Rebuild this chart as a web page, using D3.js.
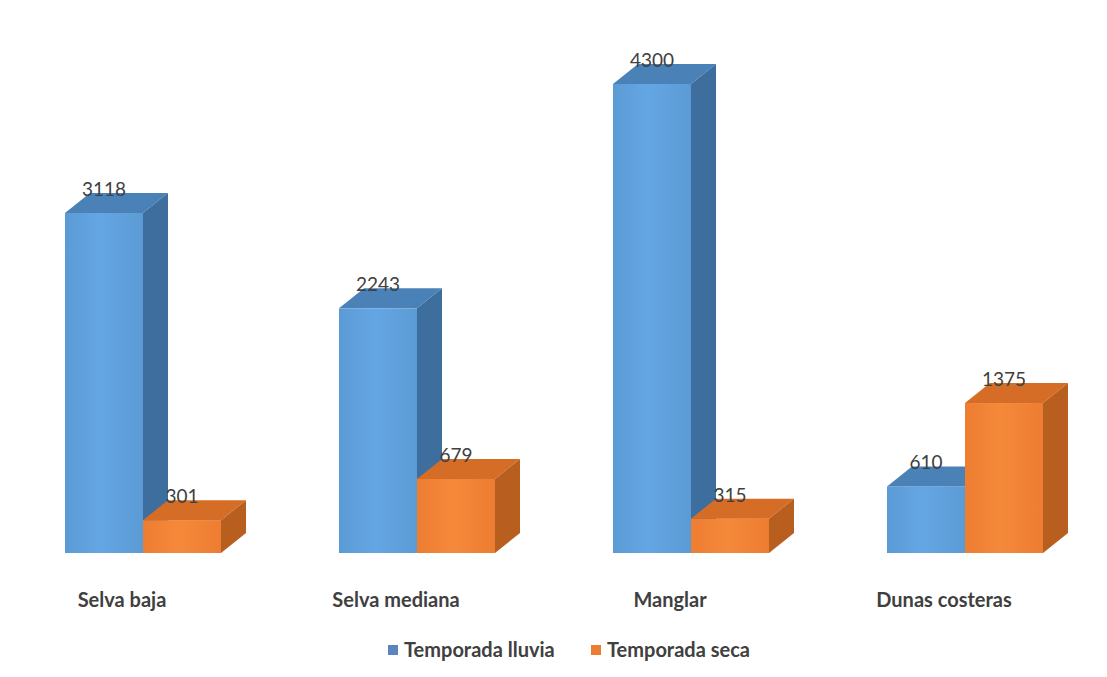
<!DOCTYPE html>
<html>
<head>
<meta charset="utf-8">
<script src="https://cdn.jsdelivr.net/npm/d3@7"></script>
<style>
  body { margin: 0; background: #fff; }
  svg { display: block; }
</style>
</head>
<body>
<script>
// chart data
var categories = ["Selva baja", "Selva mediana", "Manglar", "Dunas costeras"];
var seriesNames = ["Temporada lluvia", "Temporada seca"];
var lluvia = [3118, 2243, 4300, 610];
var seca = [301, 679, 315, 1375];

var W = 1107, H = 677;
var depthX = 25, depthY = -20;

var svg = d3.select("body").append("svg")
    .attr("width", W)
    .attr("height", H);

// colours per series: front, side, top
var colors = {
    "Temporada lluvia": {front: "#5b9bd5", light: "#64a6e4", side: "#3d6e9e", top: "#4a82b8", legend: "#5b86bd"},
    "Temporada seca":   {front: "#ed7d31", light: "#f5893a", side: "#b85e1f", top: "#d66d27", legend: "#ed7d31"}
};

// gradients for the front faces
var defs = svg.append("defs");
seriesNames.forEach(function(s, i) {
    var g = defs.append("linearGradient")
        .attr("id", "grad" + i)
        .attr("x1", "0%").attr("x2", "100%").attr("y1", "0%").attr("y2", "0%");
    g.append("stop").attr("offset", "0%").attr("stop-color", colors[s].front);
    g.append("stop").attr("offset", "45%").attr("stop-color", colors[s].light);
    g.append("stop").attr("offset", "100%").attr("stop-color", colors[s].front);
});

var data = categories.map(function(c, i) {
    return {category: c, values: [
        {series: seriesNames[0], value: lluvia[i]},
        {series: seriesNames[1], value: seca[i]}
    ]};
});

// scales
var x0 = d3.scaleBand()
    .domain(categories)
    .range([65, 1043])
    .paddingInner(118 / 274)
    .paddingOuter(0);

var x1 = d3.scaleBand()
    .domain(seriesNames)
    .range([0, x0.bandwidth()])
    .padding(0);

var y = d3.scaleLinear()
    .domain([0, 4300])
    .range([553, 84]);

var groups = svg.selectAll(".group")
    .data(data)
    .enter().append("g")
    .attr("class", "group")
    .attr("transform", function(d) { return "translate(" + x0(d.category) + ",0)"; });

var bars = groups.selectAll(".bar")
    .data(function(d) { return d.values; })
    .enter().append("g")
    .attr("class", "bar");

// front face
bars.append("rect")
    .attr("x", function(d) { return x1(d.series); })
    .attr("y", function(d) { return y(d.value); })
    .attr("width", x1.bandwidth())
    .attr("height", function(d) { return y(0) - y(d.value); })
    .attr("fill", function(d) { return "url(#grad" + seriesNames.indexOf(d.series) + ")"; });

// top face
bars.append("path")
    .attr("d", function(d) {
        var xl = x1(d.series), xr = xl + x1.bandwidth(), yt = y(d.value);
        return "M" + xl + "," + yt + "L" + (xl + depthX) + "," + (yt + depthY) +
            "L" + (xr + depthX) + "," + (yt + depthY) + "L" + xr + "," + yt + "Z";
    })
    .attr("fill", function(d) { return colors[d.series].top; });

// side face
bars.append("path")
    .attr("d", function(d) {
        var xr = x1(d.series) + x1.bandwidth(), yt = y(d.value), yb = y(0);
        return "M" + xr + "," + yt + "L" + (xr + depthX) + "," + (yt + depthY) +
            "L" + (xr + depthX) + "," + (yb + depthY) + "L" + xr + "," + yb + "Z";
    })
    .attr("fill", function(d) { return colors[d.series].side; });

// value labels
bars.append("text")
    .attr("x", function(d) { return x1(d.series) + x1.bandwidth() / 2; })
    .attr("y", function(d) { return y(d.value) + depthY + 3; })
    .attr("text-anchor", "middle")
    .style("font-family", "Lato, 'Open Sans', sans-serif")
    .style("font-size", "19px")
    .style("fill", "#404040")
    .text(function(d) { return d.value; });

// category labels
groups.append("text")
    .attr("x", x0.bandwidth() / 2 - 21)
    .attr("y", 607)
    .attr("text-anchor", "middle")
    .style("font-family", "Lato, 'Open Sans', sans-serif")
    .style("font-size", "20px")
    .style("font-weight", "bold")
    .style("fill", "#404040")
    .text(function(d) { return d.category; });

// legend
var legendX = [388, 591];
var legend = svg.selectAll(".legend")
    .data(seriesNames)
    .enter().append("g")
    .attr("class", "legend")
    .attr("transform", function(d, i) { return "translate(" + legendX[i] + ",645)"; });

legend.append("rect")
    .attr("width", 10)
    .attr("height", 10)
    .attr("fill", function(d) { return colors[d].legend; });

legend.append("text")
    .attr("x", 16)
    .attr("y", 12)
    .style("font-family", "Lato, 'Open Sans', sans-serif")
    .style("font-size", "20px")
    .style("font-weight", "bold")
    .style("fill", "#404040")
    .text(function(d) { return d; });
</script>
</body>
</html>
